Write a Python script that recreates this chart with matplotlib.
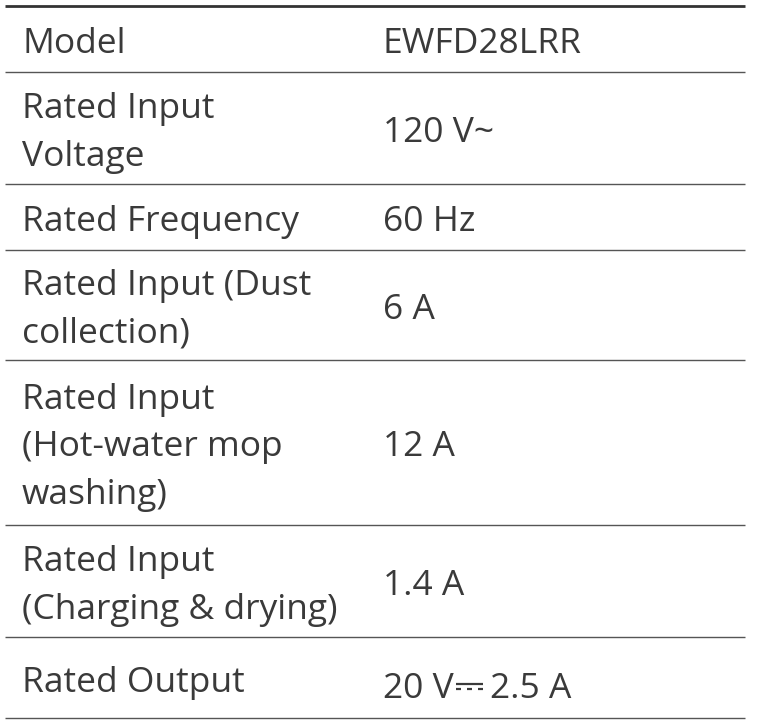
import matplotlib
matplotlib.use("Agg")
import matplotlib.pyplot as plt

labels = ["Model", "Rated Input\nVoltage", "Rated Frequency", "Rated Input (Dust\ncollection)",
          "Rated Input\n(Hot-water mop\nwashing)", "Rated Input\n(Charging & drying)", "Rated Output"]
values = ["EWFD28LRR", "120 V~", "60 Hz", "6 A", "12 A", "1.4 A", ""]
out_volt = "20 V"
out_amp = "2.5 A"
row_bounds = [6, 72, 184, 250, 360, 525, 637, 718]

fig = plt.figure(figsize=(7.6, 7.27), dpi=100)
ax = fig.add_axes([0, 0, 1, 1])
ax.set_xlim(0, 760)
ax.set_ylim(727, 0)
ax.axis("off")

fam = ["Open Sans", "DejaVu Sans"]
col = "#3a3a3a"
fs = 25.5
for i, (lab, val) in enumerate(zip(labels, values)):
    top, bot = row_bounds[i], row_bounds[i + 1]
    mid = (top + bot) / 2
    ax.text(22, mid + 5, lab, fontsize=fs, family=fam, color=col, va="center", ha="left", linespacing=1.52)
    if val:
        ax.text(383, mid + 5, val, fontsize=fs, family=fam, color=col, va="center", ha="left")

# Rated output value: "20 V ⎓ 2.5 A" with the DC symbol drawn as a shape
mid = (row_bounds[-2] + row_bounds[-1]) / 2 + 12
ax.text(383, mid, out_volt, fontsize=fs, family=fam, color=col, va="center", ha="left")
ax.text(490, mid, out_amp, fontsize=fs, family=fam, color=col, va="center", ha="left")
ax.plot([456, 483], [684, 684], color=col, lw=1.6, solid_capstyle="butt")
for x0 in (456, 467, 478):
    ax.plot([x0, x0 + 5], [689, 689], color=col, lw=1.6, solid_capstyle="butt")

for j, y in enumerate(row_bounds):
    ax.plot([5, 745], [y, y], color="#333333" if j == 0 else "#555555", lw=2.0 if j == 0 else 1.0,
            solid_capstyle="butt")

fig.savefig("out.png", dpi=100)
